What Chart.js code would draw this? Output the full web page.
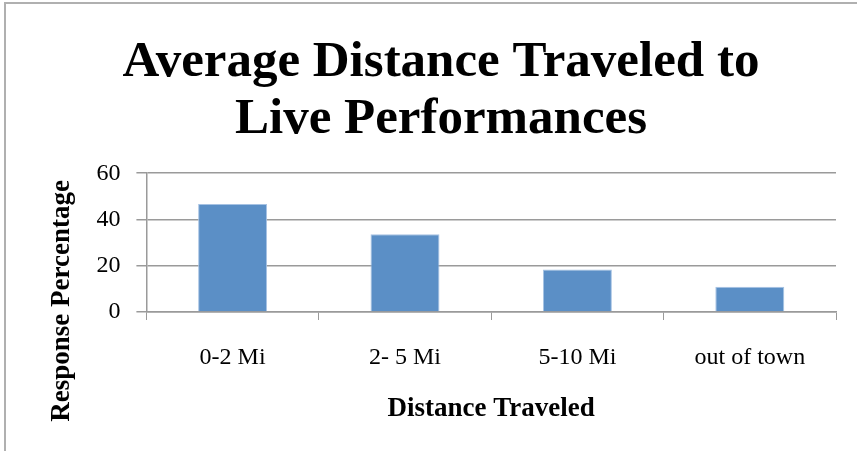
<!DOCTYPE html>
<html>
<head>
<meta charset="utf-8">
<title>Average Distance Traveled to Live Performances</title>
<script src="https://cdn.jsdelivr.net/npm/chart.js@4"></script>
<style>
    html, body { margin: 0; padding: 0; background: #fff; }
    #wrap { position: relative; width: 857px; height: 451px; }
    #frame {
        position: absolute; left: 4px; top: 2px; right: 0; bottom: 0;
        border-top: 2px solid #b0b0b0; border-left: 2px solid #b0b0b0;
        pointer-events: none;
    }
    #chart-box { position: absolute; left: 0; top: 0; width: 857px; height: 451px; }
</style>
</head>
<body>
<div id="wrap">
    <div id="chart-box"><canvas id="distanceChart"></canvas></div>
    <div id="frame"></div>
</div>
<script>
const categories = ['0-2 Mi', '2- 5 Mi', '5-10 Mi', 'out of town'];
const responsePercent = [46.7, 33.6, 18.4, 10.9];
const yTicks = [0, 20, 40, 60];

document.addEventListener('DOMContentLoaded', function () {
    const ctx = document.getElementById('distanceChart').getContext('2d');
    const serif = "'Liberation Serif', 'Times New Roman', serif";
    const gridGray = '#9a9a9a';

    new Chart(ctx, {
        type: 'bar',
        data: {
            labels: categories,
            datasets: [{
                label: 'Response Percentage',
                data: responsePercent,
                backgroundColor: '#5b8fc6',
                borderColor: '#a6c2e3',
                borderWidth: 1,
                barPercentage: 0.4,
                categoryPercentage: 1
            }]
        },
        options: {
            responsive: true,
            maintainAspectRatio: false,
            animation: false,
            layout: {
                padding: { top: 0, right: 21, bottom: 28, left: 46 }
            },
            plugins: {
                legend: { display: false },
                tooltip: { enabled: false },
                title: {
                    display: true,
                    text: ['Average Distance Traveled to', 'Live Performances'],
                    color: '#000',
                    font: { family: serif, size: 51, weight: 'bold', lineHeight: 1.12 },
                    padding: { top: 34, bottom: 25 }
                }
            },
            scales: {
                x: {
                    grid: {
                        drawOnChartArea: false,
                        tickLength: 8,
                        color: gridGray
                    },
                    border: { display: true, color: gridGray, width: 1.5 },
                    ticks: {
                        color: '#000',
                        padding: 26,
                        font: { family: serif, size: 24, lineHeight: 1 }
                    },
                    title: {
                        display: true,
                        text: 'Distance Traveled',
                        color: '#000',
                        font: { family: serif, size: 27, weight: 'bold', lineHeight: 1 },
                        padding: { top: 0, bottom: 0 }
                    }
                },
                y: {
                    min: 0,
                    max: 60,
                    afterBuildTicks: function (axis) {
                        axis.ticks = yTicks.map(v => ({ value: v }));
                    },
                    grid: {
                        color: gridGray,
                        lineWidth: 1.5,
                        tickLength: 10
                    },
                    border: { display: true, color: gridGray, width: 1.5 },
                    ticks: {
                        color: '#000',
                        padding: 16,
                        font: { family: serif, size: 24 }
                    },
                    title: {
                        display: true,
                        align: 'end',
                        text: 'Response Percentage ',
                        color: '#000',
                        font: { family: serif, size: 27, weight: 'bold' },
                        padding: { top: 0, bottom: 2 }
                    }
                }
            }
        }
    });
});
</script>
</body>
</html>
